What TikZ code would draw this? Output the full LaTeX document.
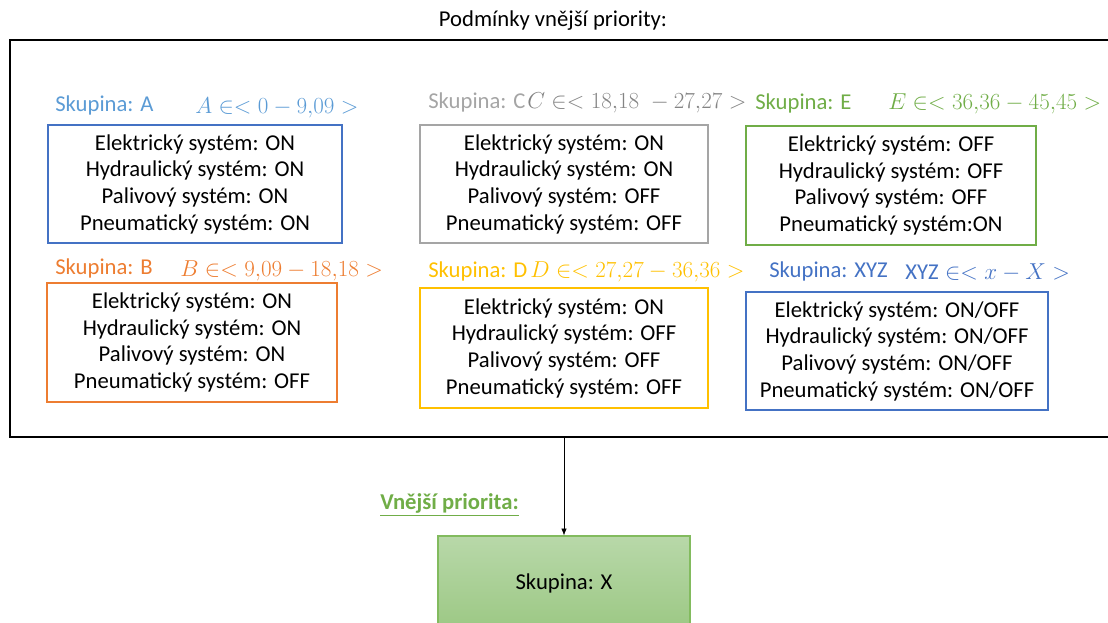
\documentclass[tikz,border=0pt]{standalone}
\usepackage{fontspec}
\setmainfont{Carlito}
\usetikzlibrary{arrows.meta}
\definecolor{grpAtext}{HTML}{5B9BD5}
\definecolor{grpBlue}{HTML}{4472C4}
\definecolor{grpGray}{HTML}{A5A5A5}
\definecolor{grpGreen}{HTML}{70AD47}
\definecolor{grpOrange}{HTML}{ED7D31}
\definecolor{grpGold}{HTML}{FFC000}
\definecolor{xTop}{HTML}{B8D8A9}
\definecolor{xBottom}{HTML}{9CC884}
\definecolor{xBorder}{HTML}{82BB5E}
\begin{document}
\begin{tikzpicture}[x=0.75pt,y=-0.75pt,
  font=\fontsize{17}{20}\selectfont,
  group/.style={draw,line width=1pt,align=center,inner sep=0pt},
  grplabel/.style={anchor=base west,inner sep=0pt},
  rangetext/.style={anchor=base west,inner sep=0pt}]
  \useasboundingbox (0,0) rectangle (1108,623);
  \node[anchor=base] (title) at (553,27) {Podmínky vnější priority:};
  \node[draw,line width=1.1pt,minimum width=831pt,minimum height=297.75pt] (frame) at (564,238.5) {};
  % group A
  \node[grplabel,text=grpAtext] (labA) at (55,112) {Skupina: A};
  \node[rangetext,text=grpAtext] (rangeA) at (195,114) {$A \in< 0-9{,}09>$};
  \node[group,draw=grpBlue,minimum width=220.5pt,minimum height=88.5pt] (boxA) at (195,184)
    {Elektrický systém: ON\\Hydraulický systém: ON\\Palivový systém: ON\\Pneumatický systém: ON};
  % group C
  \node[grplabel,text=grpGray] (labC) at (428,109) {Skupina: C};
  \node[rangetext,text=grpGray!80!black] (rangeC) at (527,109) {$C \in< 18{,}18\;-27{,}27>$};
  \node[group,draw=grpGray,minimum width=216pt,minimum height=88.5pt] (boxC) at (564,184)
    {Elektrický systém: ON\\Hydraulický systém: ON\\Palivový systém: OFF\\Pneumatický systém: OFF};
  % group E
  \node[grplabel,text=grpGreen] (labE) at (755,110) {Skupina: E};
  \node[rangetext,text=grpGreen] (rangeE) at (888,110) {$E \in< 36{,}36-45{,}45>$};
  \node[group,draw=grpGreen,minimum width=217.5pt,minimum height=89.25pt] (boxE) at (891,185.5)
    {Elektrický systém: OFF\\Hydraulický systém: OFF\\Palivový systém: OFF\\Pneumatický systém:ON};
  % group B
  \node[grplabel,text=grpOrange] (labB) at (55,275) {Skupina: B};
  \node[rangetext,text=grpOrange] (rangeB) at (180,277) {$B \in< 9{,}09-18{,}18>$};
  \node[group,draw=grpOrange,minimum width=217.5pt,minimum height=89.25pt] (boxB) at (192,342.5)
    {Elektrický systém: ON\\Hydraulický systém: ON\\Palivový systém: ON\\Pneumatický systém: OFF};
  % group D
  \node[grplabel,text=grpGold] (labD) at (428,278) {Skupina: D};
  \node[rangetext,text=grpGold] (rangeD) at (530,278) {$D \in< 27{,}27-36{,}36>$};
  \node[group,draw=grpGold,minimum width=216pt,minimum height=90pt] (boxD) at (564,348)
    {Elektrický systém: ON\\Hydraulický systém: OFF\\Palivový systém: OFF\\Pneumatický systém: OFF};
  % group XYZ
  \node[grplabel,text=grpBlue] (labXYZ) at (769,278) {Skupina: XYZ};
  \node[rangetext,text=grpBlue] (rangeXYZ) at (905,280) {$\mathrm{XYZ} \in< x-X>$};
  \node[group,draw=grpBlue,minimum width=226.5pt,minimum height=88.5pt] (boxXYZ) at (897,351)
    {Elektrický systém: ON/OFF\\Hydraulický systém: ON/OFF\\Palivový systém: ON/OFF\\Pneumatický systém: ON/OFF};
  % result
  \node[anchor=base west,inner sep=0pt,text=grpGreen,font=\fontsize{17}{20}\selectfont\bfseries] (prio) at (380,510) {\underline{Vnější priorita:}};
  \node[draw=xBorder,line width=1pt,top color=xTop,bottom color=xBottom,minimum width=189pt,minimum height=70.5pt] (boxX) at (564,583) {Skupina: X};
  \draw[-{Latex[length=5pt,width=4pt]}] (frame.south) -- (boxX.north);
\end{tikzpicture}
\end{document}
